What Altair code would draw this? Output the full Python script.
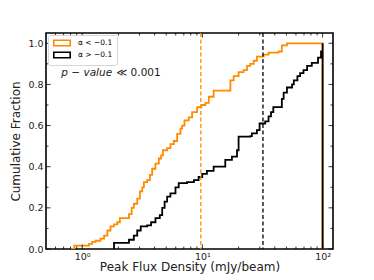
import altair as alt
import pandas as pd

# ---- data ----
orange_x = [0.80, 0.86, 1.14, 1.21, 1.29, 1.42, 1.52, 1.62, 1.72, 1.84, 1.96, 2.06, 2.45, 2.58,
            2.69, 2.87, 3.02, 3.16, 3.26, 3.47, 3.66, 3.82, 4.07, 4.34, 4.54, 4.69, 5.09, 5.42,
            5.78, 6.16, 6.57, 6.78, 7.09, 7.71, 8.21, 9.03, 9.81, 10.6, 11.3, 12.4, 17.1, 18.2,
            20.0, 22.0, 23.5, 25.0, 26.7, 28.4, 32.3, 35.5, 43.0, 45.8, 50.5, 100, 100]
orange_y = [0.0, 0.016, 0.025, 0.035, 0.04, 0.05, 0.065, 0.09, 0.11, 0.12, 0.13, 0.15, 0.17, 0.20,
            0.22, 0.245, 0.28, 0.30, 0.325, 0.335, 0.36, 0.39, 0.415, 0.44, 0.455, 0.48, 0.49, 0.51,
            0.525, 0.56, 0.585, 0.60, 0.625, 0.64, 0.665, 0.69, 0.70, 0.71, 0.74, 0.77, 0.82, 0.84,
            0.86, 0.87, 0.89, 0.90, 0.915, 0.935, 0.945, 0.955, 0.96, 0.99, 1.0, 1.0, 0.0]

black_x = [1.84, 1.84, 2.45, 2.69, 2.87, 3.07, 3.47, 3.74, 4.07, 4.42, 4.63, 4.85, 5.09, 5.42,
           5.97, 6.35, 7.45, 8.5, 9.3, 9.97, 10.9, 12.4, 15.5, 17.6, 19.4, 20.0, 25.0, 25.8,
           28.4, 29.9, 33.3, 35.5, 37.2, 38.9, 45.8, 47.4, 50.5, 55.7, 57.6, 61.7, 65.0, 69.3,
           74.3, 81.3, 91.6, 97.0, 100, 100]
black_y = [0.0, 0.03, 0.045, 0.065, 0.09, 0.11, 0.115, 0.13, 0.15, 0.165, 0.20, 0.23, 0.255, 0.27,
           0.30, 0.32, 0.325, 0.335, 0.35, 0.365, 0.38, 0.40, 0.433, 0.449, 0.48, 0.546, 0.549, 0.562,
           0.578, 0.61, 0.62, 0.645, 0.665, 0.69, 0.73, 0.76, 0.785, 0.80, 0.82, 0.84, 0.855, 0.87,
           0.89, 0.905, 0.93, 0.96, 1.0, 0.0]

series_labels = ["α < −0.1", "α > −0.1"]
series_colors = ["#ff8c00", "#000000"]

median_x = [9.7, 31.9]
median_series = ["α < −0.1", "α > −0.1"]

x_major = [1, 10, 100]
x_minor = [0.6, 0.7, 0.8, 0.9, 2, 3, 4, 5, 6, 7, 8, 9, 20, 30, 40, 50, 60, 70, 80, 90]
y_major = [0.0, 0.2, 0.4, 0.6, 0.8, 1.0]
y_minor = [0.1, 0.3, 0.5, 0.7, 0.9]

annot_x = [0.67]
annot_y = [0.857]
annot_italic = "p − value"
annot_plain = "≪ 0.001"

W, H = 287, 216
FONT = "DejaVu Sans"

rows = []
for i, (x, y) in enumerate(zip(orange_x, orange_y)):
    rows.append({"x": x, "y": y, "s": series_labels[0], "i": i})
for i, (x, y) in enumerate(zip(black_x, black_y)):
    rows.append({"x": x, "y": y, "s": series_labels[1], "i": i})
curves = pd.DataFrame(rows)

xscale = alt.Scale(type="log", domain=[0.5, 122], nice=False)
yscale = alt.Scale(domain=[0, 1.05], nice=False, zero=False)
cscale = alt.Scale(domain=series_labels, range=series_colors)

lines = alt.Chart(curves).mark_line(interpolate="step-after", strokeWidth=1.8, clip=True).encode(
    x=alt.X("x:Q", scale=xscale,
            axis=alt.Axis(values=x_major, title="Peak Flux Density (mJy/beam)",
                          labelExpr="datum.value == 1 ? '10⁰' : datum.value == 10 ? '10¹' : '10²'",
                          labelPadding=2, titlePadding=1)),
    y=alt.Y("y:Q", scale=yscale,
            axis=alt.Axis(values=y_major, format=".1f", title="Cumulative Fraction",
                          labelPadding=3, titlePadding=5)),
    color=alt.Color("s:N", scale=cscale,
                    legend=alt.Legend(orient="none", legendX=2, legendY=2, title=None,
                                      symbolType="M-3,-1L3,-1L3,1L-3,1Z",
                                      symbolSize=30, symbolStrokeWidth=1.6,
                                      symbolFillColor="white", labelFont=FONT, labelFontSize=7.5,
                                      padding=4, strokeColor="#d6d6d6", fillColor="white",
                                      cornerRadius=2, rowPadding=0, labelOffset=12,
                                      symbolOffset=6, labelLimit=60)),
    detail="s:N",
    order="i:Q",
)

med = pd.DataFrame({"x": median_x, "s": median_series})
rules = alt.Chart(med).mark_rule(strokeDash=[4, 2.5], strokeWidth=1.3).encode(
    x=alt.X("x:Q", scale=xscale),
    y=alt.value(0), y2=alt.value(H),
    color=alt.Color("s:N", scale=cscale, legend=None),
)

MAJ, MIN = 4.5, 2.5
xt = pd.DataFrame({"v": x_major + x_minor, "L": [MAJ] * len(x_major) + [MIN] * len(x_minor)})
yt = pd.DataFrame({"v": y_major + y_minor, "L": [MAJ] * len(y_major) + [MIN] * len(y_minor)})

def xticks(top):
    layers = []
    for L in (MAJ, MIN):
        d = xt[xt.L == L]
        y0, y1 = (0, L) if top else (H, H - L)
        layers.append(alt.Chart(d).mark_rule(color="black", strokeWidth=0.8).encode(
            x=alt.X("v:Q", scale=xscale), y=alt.value(y0), y2=alt.value(y1)))
    return layers

def yticks(right):
    layers = []
    for L in (MAJ, MIN):
        d = yt[yt.L == L]
        x0, x1 = (W, W - L) if right else (0, L)
        layers.append(alt.Chart(d).mark_rule(color="black", strokeWidth=0.8).encode(
            y=alt.Y("v:Q", scale=yscale), x=alt.value(x0), x2=alt.value(x1)))
    return layers

ann = pd.DataFrame({"x": annot_x, "y": annot_y})
t1 = alt.Chart(ann).mark_text(text=annot_italic, align="left", baseline="middle", fontStyle="italic",
                              font=FONT, fontSize=10.5, color="#222").encode(
    x=alt.X("x:Q", scale=xscale), y=alt.Y("y:Q", scale=yscale))
t2 = alt.Chart(ann).mark_text(text=annot_plain, align="left", baseline="middle", dx=55,
                              font=FONT, fontSize=10.5, color="#222").encode(
    x=alt.X("x:Q", scale=xscale), y=alt.Y("y:Q", scale=yscale))

chart = alt.layer(
    lines, rules, *xticks(False), *xticks(True), *yticks(False), *yticks(True), t1, t2
).properties(
    width=W, height=H,
    autosize=alt.AutoSizeParams(type="none"),
    padding={"left": 38, "top": 25, "right": 33, "bottom": 27},
).configure_view(
    stroke="black", strokeWidth=1.6
).configure_axis(
    domain=False, ticks=False, grid=False, labelFont=FONT, labelFontSize=9.5,
    labelColor="#222", titleFont=FONT, titleFontSize=12, titleFontWeight="normal", titleColor="#222"
)

chart.save("out.html", embed_options={"renderer": "svg", "actions": False})
